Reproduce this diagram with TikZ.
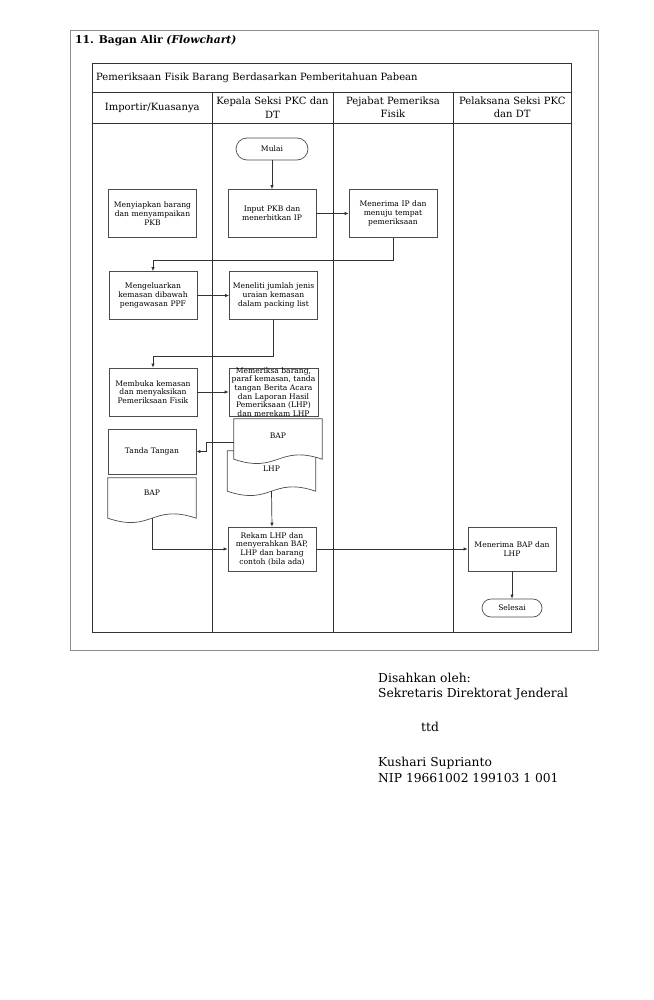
\documentclass[tikz,border=0pt]{standalone}
\usepackage{fontspec}
\setmainfont{DejaVu Serif}
\usetikzlibrary{arrows.meta,calc}
\begin{document}
\begin{tikzpicture}[x=1pt,y=-1pt,
  frame/.style={draw=black!45,line width=0.8pt},
  tbl/.style={draw=black!80,line width=0.8pt},
  nfont/.style={font=\fontsize{7.6}{8.8}\selectfont},
  proc/.style={draw=black!70,line width=0.7pt,minimum width=88pt,minimum height=48pt,align=center,nfont,text width=86pt,inner sep=1pt},
  term/.style={draw=black!70,line width=0.7pt,rounded corners=11pt,minimum width=72pt,minimum height=22pt,nfont,inner sep=1pt},
  docnode/.style={minimum width=88pt,minimum height=40pt,inner sep=0pt,nfont},
  hdr/.style={align=center,font=\fontsize{10}{13.5}\selectfont,text width=118pt},
  arr/.style={draw=black!80,line width=0.7pt,-{Latex[length=4pt,width=3.5pt]}},
  sig/.style={anchor=base west,font=\fontsize{12.3}{14}\selectfont,inner sep=0pt}
]
\useasboundingbox[fill=white] (0,0) rectangle (653,1000);
% outer frame
\draw[frame] (70,30.5) rectangle (598,650);
\node[anchor=base west,inner sep=0pt,font=\bfseries\fontsize{10.7}{12}\selectfont] (heading) at (75,43.5) {11. Bagan Alir \textit{(Flowchart)}};
% table
\draw[tbl] (92.5,63) rectangle (571.5,632);
\draw[tbl] (92.5,92) -- (571.5,92);
\draw[tbl] (92.5,123) -- (571.5,123);
\draw[tbl] (212,92) -- (212,632);
\draw[tbl] (333,92) -- (333,632);
\draw[tbl] (453,92) -- (453,632);
\node[anchor=base west,inner sep=0pt,font=\fontsize{10}{12}\selectfont] (title) at (96,81) {Pemeriksaan Fisik Barang Berdasarkan Pemberitahuan Pabean};
\node[hdr] (h1) at (152.25,107.5) {Importir/Kuasanya};
\node[hdr] (h2) at (272.5,107.5) {Kepala Seksi PKC dan\\DT};
\node[hdr] (h3) at (393,107.5) {Pejabat Pemeriksa\\Fisik};
\node[hdr] (h4) at (512.25,107.5) {Pelaksana Seksi PKC\\dan DT};
% nodes
\node[term] (mulai) at (272,149) {Mulai};
\node[proc] (input) at (272,213.5) {Input PKB dan\\menerbitkan IP};
\node[proc] (menip) at (393,213.5) {Menerima IP dan\\menuju tempat\\pemeriksaan};
\node[proc] (siap) at (152.5,213.5) {Menyiapkan barang\\dan menyampaikan\\PKB};
\node[proc] (mengel) at (153,295.5) {Mengeluarkan\\kemasan dibawah\\pengawasan PPF};
\node[proc] (meneliti) at (273.5,295.5) {Meneliti jumlah jenis\\uraian kemasan\\dalam packing list};
\node[proc] (membuka) at (153,392) {Membuka kemasan\\dan menyaksikan\\Pemeriksaan Fisik};
\node[proc,minimum width=89pt] (memeriksa) at (273.5,392) {};
\node[align=center,font=\fontsize{7.6}{8.6}\selectfont,inner sep=0pt] (memeriksatxt) at (memeriksa.center) {Memeriksa barang,\\paraf kemasan, tanda\\tangan Berita Acara\\dan Laporan Hasil\\Pemeriksaan (LHP)\\dan merekam LHP};
\node[proc,minimum height=45pt] (tanda) at (152,451.5) {Tanda Tangan};
% documents
\node[docnode] (lhp) at (271.5,471) {};
\node[docnode] (bapk) at (278,439) {};
\node[docnode] (bapi) at (152,498) {};
\foreach \d in {lhp,bapk,bapi}{
  \path[fill=white,draw=black!70,line width=0.7pt]
    (\d.north west) -- (\d.north east) -- (\d.south east)
    .. controls ($(\d.south)+(0,-15)$) and ($(\d.south)+(0,15)$) .. (\d.south west) -- cycle;
}
\node[nfont] (lhptxt) at ($(lhp.center)+(0,-2)$) {LHP};
\node[nfont] (bapktxt) at ($(bapk.center)+(0,-3)$) {BAP};
\node[nfont] (bapitxt) at ($(bapi.center)+(0,-5)$) {BAP};
\node[proc,minimum height=44pt] (rekam) at (272,549) {Rekam LHP dan\\menyerahkan BAP,\\LHP dan barang\\contoh (bila ada)};
\node[proc,minimum height=44pt] (menbap) at (512,549) {Menerima BAP dan\\LHP};
\node[term,minimum width=60pt,minimum height=18pt,rounded corners=9pt] (selesai) at (512,608) {Selesai};
% connectors
\draw[arr] (mulai) -- (input);
\draw[arr] (input) -- (menip);
\draw[arr] (menip.south) -- ++(0,22) -| (mengel.north);
\draw[arr] (mengel) -- (meneliti);
\draw[arr] (meneliti.south) -- ++(0,36) -| (membuka.north);
\draw[arr] (membuka.east) -- (memeriksa.west);
\draw[arr] ($(bapk.west)+(0,3)$) -- ++(-27,0) |- (tanda.east);
\draw[arr] (lhp.south) -- (rekam.north);
\draw[arr] (bapi.south) |- (rekam.west);
\draw[arr] (rekam) -- (menbap);
\draw[arr] (menbap) -- (selesai);
% signature
\node[sig] (s1) at (378,682) {Disahkan oleh:};
\node[sig] (s2) at (378,697) {Sekretaris Direktorat Jenderal};
\node[sig] (s3) at (421,731) {ttd};
\node[sig] (s4) at (378,766) {Kushari Suprianto};
\node[sig] (s5) at (378,782) {NIP 19661002 199103 1 001};
\end{tikzpicture}
\end{document}
